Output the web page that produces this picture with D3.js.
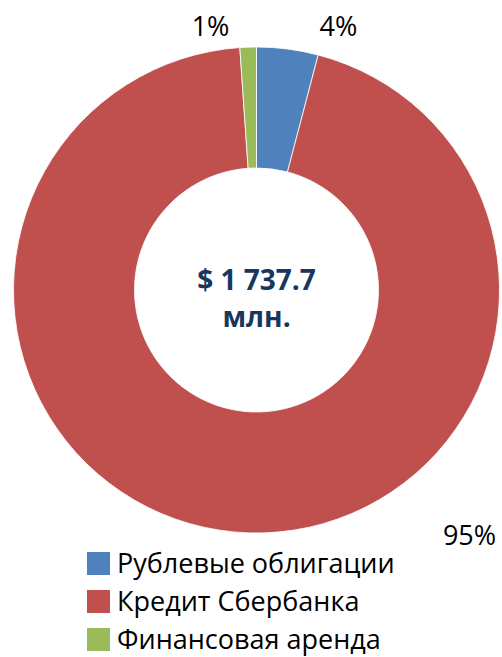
<!DOCTYPE html>
<html>
<head>
<meta charset="utf-8">
<script src="https://cdn.jsdelivr.net/npm/d3@7"></script>
<style>
  body { margin: 0; background: #fff; }
  text { font-family: "Open Sans", "Noto Sans", sans-serif; }
</style>
</head>
<body>
<div id="chart"></div>
<script>
const categories = ["Рублевые облигации", "Кредит Сбербанка", "Финансовая аренда"]
const values = [71, 1647.7, 19]
const pctLabels = ["4%", "95%", "1%"]
const colors = ["#4F81BD", "#C0504D", "#9BBB59"]
const centerLines = ["$ 1 737.7", "млн."]

const width = 502, height = 657
const cx = 256.5, cy = 290
const outerR = 243, innerR = 122

const svg = d3.select("#chart")
  .append("svg")
  .attr("width", width)
  .attr("height", height)

const pie = d3.pie().sort(null).value(d => d)
const arc = d3.arc().innerRadius(innerR).outerRadius(outerR)
const arcs = pie(values)

const g = svg.append("g").attr("transform", `translate(${cx},${cy})`)

g.selectAll("path")
  .data(arcs)
  .enter()
  .append("path")
  .attr("d", arc)
  .attr("fill", (d, i) => colors[i])
  .attr("stroke", "#fff")
  .attr("stroke-width", 0.8)

// percent labels placed just outside the ring
const labelPos = [
  {dx: 82, dy: -254},
  {dx: 213, dy: 255},
  {dx: -46, dy: -254}
]
g.selectAll(".pct")
  .data(arcs)
  .enter()
  .append("text")
  .attr("class", "pct")
  .attr("x", (d, i) => labelPos[i].dx)
  .attr("y", (d, i) => labelPos[i].dy)
  .attr("text-anchor", "middle")
  .attr("font-size", 27)
  .attr("fill", "#000")
  .text((d, i) => pctLabels[i])

g.selectAll(".center")
  .data(centerLines)
  .enter()
  .append("text")
  .attr("class", "center")
  .attr("x", 0)
  .attr("y", (d, i) => i * 37)
  .attr("text-anchor", "middle")
  .attr("font-size", 28)
  .attr("font-weight", "bold")
  .attr("fill", "#17375E")
  .text(d => d)

const legend = svg.append("g").attr("transform", "translate(87,552)")
const rows = legend.selectAll("g")
  .data(categories)
  .enter()
  .append("g")
  .attr("transform", (d, i) => `translate(0,${i * 38})`)

rows.append("rect")
  .attr("width", 23)
  .attr("height", 23)
  .attr("fill", (d, i) => colors[i])

rows.append("text")
  .attr("x", 30)
  .attr("y", 21)
  .attr("font-size", 27)
  .attr("fill", "#000")
  .text(d => d)
</script>
</body>
</html>
